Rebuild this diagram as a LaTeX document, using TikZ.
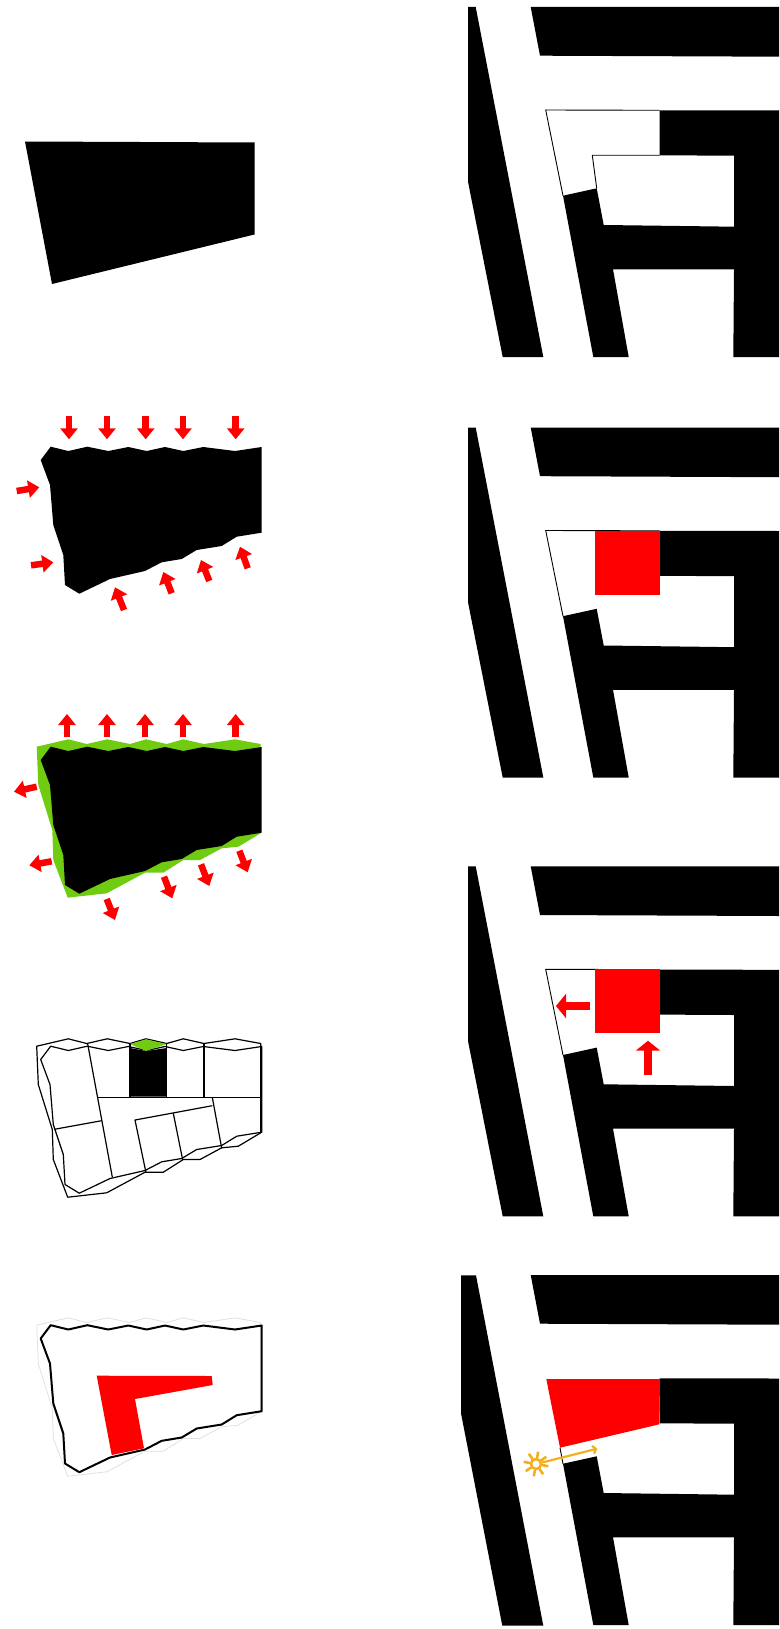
\documentclass[tikz,border=0pt]{standalone}
\usetikzlibrary{arrows.meta}

\definecolor{lawn}{HTML}{70CC10}
\definecolor{sunny}{HTML}{F2B01E}

\newcommand{\lotinner}{(50.7,446.7) -- (68.3,451) -- (87.3,446.7) -- (108.3,451) -- (128.3,447) -- (146.7,451) -- (165,447) -- (183.3,451) -- (203.3,447) -- (235,451) -- (261.7,447) -- (261.7,532.7) -- (236.7,536.7) -- (221.7,546) -- (196.7,550) -- (181.7,559) -- (161.7,562.3) -- (145,571) -- (110,579) -- (79.3,593.7) -- (65,585) -- (63.3,555) -- (53.3,525) -- (50,485) -- (40.7,460) -- cycle}
\newcommand{\lotouter}{(36.7,446.7) -- (68.3,439.3) -- (86.7,444) -- (107.3,439.3) -- (130,444) -- (146,439.3) -- (166.7,444) -- (183.3,439.3) -- (204,444) -- (235,439.3) -- (260.7,444) -- (260.7,533.3) -- (238.3,546.7) -- (221.7,548.3) -- (200,560) -- (183.3,560) -- (163.3,572.7) -- (145,572.7) -- (106.7,593.3) -- (67.7,597.7) -- (53.3,560) -- (52.3,530) -- (38.3,485) -- cycle}
\newcommand{\blackblocks}{%
  \fill (530.7,7) -- (779,7) -- (779,56.7) -- (540,55.7) -- cycle;
  \fill (659.7,110.3) -- (779,110.5) -- (779,357) -- (733.3,357) -- (734,269.3) -- (613,269.3) -- (628.7,357) -- (593.3,357) -- (563,195.7) -- (596.7,188.3) -- (603.7,225) -- (734,226.7) -- (734,155.7) -- (659.7,155.3) -- cycle;
}
\newcommand{\planblock}{%
  \fill (468,7) -- (475.7,7) -- (543.3,357) -- (502.7,357) -- (468,181.7) -- cycle;
  \blackblocks
  \draw[thinline] (659.7,110.3) -- (545.7,110) -- (563,195.7);
}

\begin{document}
\begin{tikzpicture}[x=1pt, y=-1pt,
  thinline/.style={line width=0.9pt},
  lotline/.style={line width=1.2pt, line join=round},
  redarrow/.style={draw=red, line width=6.5pt, -{Triangle[length=11pt, width=17pt]}},
  bigarrow/.style={draw=red, line width=8pt, -{Triangle[length=10pt, width=24pt]}},
  sunline/.style={draw=sunny, line width=2.6pt}]
\useasboundingbox (0,0) rectangle (779,1629);

\fill (25,141.5) -- (254.5,142.5) -- (254.5,234.5) -- (52,284) -- cycle;
\planblock
\draw[thinline] (659.7,155.3) -- (592.3,155.3) -- (596.7,188.3);

\fill \lotinner;
\foreach \px in {69,107,145.7,183,235.7}
  \draw[redarrow] (\px,416) -- (\px,439.3);
\foreach \ax/\ay/\bx/\by in {16.7/491/39.3/487.3, 31/565.3/53.3/562.3, 124/610/115/587.3, 171.7/593.3/163.3/572, 209.3/581/201/560, 247.7/568.3/240/546.7}
  \draw[redarrow] (\ax,\ay) -- (\bx,\by);
\begin{scope}[shift={(0,420.5)}]
  \planblock
  \fill[red] (595,110) rectangle (660,174);
\end{scope}

\begin{scope}[shift={(0,300)}]
  \fill[lawn] \lotouter;
  \fill \lotinner;
\end{scope}
\foreach \px in {67,107,145,183,235.7}
  \draw[redarrow] (\px,736.7) -- (\px,714);
\foreach \ax/\ay/\bx/\by in {36.7/786.7/14/791.7, 51.7/861.3/29.3/865.3, 106.7/899/115/920, 164/876.7/172.3/898.3, 201/864.3/209.3/886, 239.3/850.7/247.7/872.3}
  \draw[redarrow] (\ax,\ay) -- (\bx,\by);
\begin{scope}[shift={(0,859.3)}]
  \planblock
  \fill[red] (595,110) rectangle (660,174);
\end{scope}
\draw[bigarrow] (590,1006) -- (556,1006);
\draw[bigarrow] (648,1075.3) -- (648,1040.7);

\begin{scope}[shift={(0,599.5)}]
  \draw[lotline] \lotouter;
  \draw[lotline] \lotinner;
\end{scope}
\fill (130,1048) -- (146,1051) -- (166.7,1048) -- (166.7,1096.7) -- (130,1096.7) -- cycle;
\fill[lawn] (130,1044) -- (146,1039.3) -- (166.7,1044) -- (146,1051) -- cycle;
\draw[lotline] (87.7,1044) -- (112.3,1177);
\draw[lotline] (97.7,1097.3) -- (260.7,1097.3);
\draw[lotline] (130,1044) -- (130,1097.3);
\draw[lotline] (166.7,1044) -- (166.7,1097.3);
\draw[lotline] (204,1044) -- (204,1097.3);
\draw[lotline] (212.3,1097.3) -- (221.7,1148.3);
\draw[lotline] (212.3,1105.7) -- (135,1120) -- (146,1172.7);
\draw[lotline] (173.3,1113.3) -- (182.7,1160);
\draw[lotline] (54.3,1129.3) -- (101.7,1120.7);

\begin{scope}[shift={(0,878.5)}]
  \draw[black!12, line width=0.8pt] \lotouter;
  \draw[line width=2pt, line join=round] \lotinner;
\end{scope}
\fill[red] (96.7,1375.7) -- (211.7,1376) -- (212.7,1385) -- (135,1399) -- (144,1448.3) -- (111.7,1455) -- cycle;

\fill (461,1275.3) -- (476,1275.3) -- (543.3,1625.7) -- (502.3,1625.7) -- (461,1413.3) -- cycle;
\begin{scope}[shift={(0,1268)}]
  \blackblocks
  \fill[red] (546.3,111) -- (660,111) -- (659.3,156.3) -- (560,179.7) -- cycle;
  \draw[thinline] (560,179.7) -- (563,196);
\end{scope}
\node (sun) [circle, draw=sunny, line width=2.6pt, minimum size=10pt, inner sep=0pt] at (536,1464) {};
\foreach \ang in {10,55,...,325}
  \draw[sunline] (sun) ++(\ang:6) -- ++(\ang:6.5);
\coordinate (beam) at (597.3,1448.7);
\draw[draw=sunny, line width=2.2pt, -{Straight Barb[length=3pt, width=8pt]}] (sun) -- (beam);
\end{tikzpicture}
\end{document}
